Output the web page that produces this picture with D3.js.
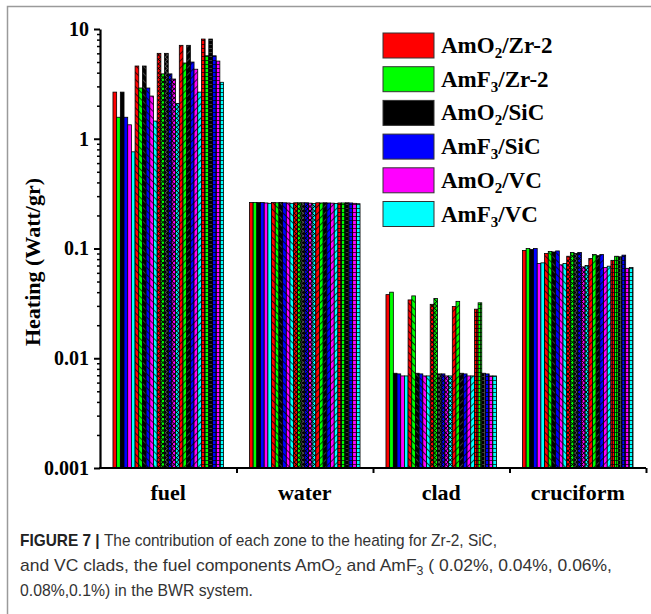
<!DOCTYPE html>
<html>
<head>
<meta charset="utf-8">
<script src="https://cdn.jsdelivr.net/npm/d3@7"></script>
<style>
  body { margin: 0; background: #fff; }
  svg { display: block; }
  .serif { font-family: "Liberation Serif", "Times New Roman", serif; font-weight: bold; }
</style>
</head>
<body>
<div id="chart"></div>
<script>
// categories and series
const categories = ["fuel", "water", "clad", "cruciform"];
const seriesLabels = ["AmO2/Zr-2", "AmF3/Zr-2", "AmO2/SiC", "AmF3/SiC", "AmO2/VC", "AmF3/VC"];
const seriesColors = ["#ff0000", "#00ff00", "#000000", "#0000ff", "#ff00ff", "#00ffff"];
const concentrations = ["0.02%", "0.04%", "0.06%", "0.08%", "0.1%"];

// heating (Watt/gr), one row per series, one column per concentration
const fuelHeat = [
  [2.66, 4.6, 6.0, 7.1, 8.1],
  [1.57, 2.9, 3.9, 4.9, 5.7],
  [2.66, 4.6, 6.0, 7.1, 8.1],
  [1.57, 2.9, 3.9, 5.0, 5.7],
  [1.34, 2.45, 3.5, 4.3, 5.1],
  [0.76, 1.45, 2.1, 2.66, 3.27]
];
const waterHeat = [
  [0.262, 0.262, 0.261, 0.261, 0.26],
  [0.262, 0.261, 0.261, 0.26, 0.26],
  [0.262, 0.262, 0.261, 0.261, 0.261],
  [0.262, 0.261, 0.261, 0.26, 0.26],
  [0.26, 0.26, 0.259, 0.259, 0.258],
  [0.258, 0.258, 0.257, 0.257, 0.256]
];
const cladHeat = [
  [0.038, 0.034, 0.031, 0.0296, 0.028],
  [0.040, 0.037, 0.035, 0.033, 0.032],
  [0.0073, 0.0073, 0.0072, 0.0073, 0.0073],
  [0.0072, 0.0072, 0.0072, 0.0072, 0.0072],
  [0.0069, 0.0069, 0.0069, 0.0069, 0.0069],
  [0.0069, 0.0069, 0.0069, 0.0069, 0.0069]
];
const cruciformHeat = [
  [0.096, 0.090, 0.085, 0.081, 0.078],
  [0.100, 0.094, 0.092, 0.088, 0.085],
  [0.098, 0.093, 0.090, 0.086, 0.084],
  [0.100, 0.095, 0.092, 0.088, 0.087],
  [0.073, 0.071, 0.068, 0.067, 0.066],
  [0.074, 0.073, 0.070, 0.069, 0.067]
];
const yTicks = [0.001, 0.01, 0.1, 1, 10];

const heatByCategory = [fuelHeat, waterHeat, cladHeat, cruciformHeat];

const width = 651, height = 614;
const plotLeft = 100, plotRight = 646, plotTop = 29, plotBottom = 468;

const svg = d3.select('#chart')
    .append('svg')
    .attr('width', width)
    .attr('height', height);

// figure frame (top and left rules)
svg.append('path')
    .attr('d', `M7.5,${height}L7.5,6.5L${width},6.5`)
    .attr('fill', 'none')
    .attr('stroke', '#9a9a9a')
    .attr('stroke-width', 1.5);

// fill patterns, one per series colour and concentration
const defs = svg.append('defs');
const hatch = [
  null,
  {size: 5, rot: 45, lines: ['h']},
  {size: 3.2, rot: 45, lines: ['h', 'v']},
  {size: 5, rot: -45, lines: ['h']},
  {size: 4, rot: 0, lines: ['h', 'v']}
];
seriesColors.forEach((c, s) => {
  hatch.forEach((h, k) => {
    if (!h) return;
    const p = defs.append('pattern')
        .attr('id', `pat-${s}-${k}`)
        .attr('patternUnits', 'userSpaceOnUse')
        .attr('width', h.size)
        .attr('height', h.size)
        .attr('patternTransform', `rotate(${h.rot})`);
    p.append('rect').attr('width', h.size).attr('height', h.size).attr('fill', c);
    const lc = s === 2 ? '#555' : '#000';
    if (h.lines.includes('h'))
      p.append('line').attr('x1', 0).attr('y1', 0.4).attr('x2', h.size).attr('y2', 0.4)
          .attr('stroke', lc).attr('stroke-width', 0.8);
    if (h.lines.includes('v'))
      p.append('line').attr('x1', 0.4).attr('y1', 0).attr('x2', 0.4).attr('y2', h.size)
          .attr('stroke', lc).attr('stroke-width', 0.8);
  });
});

// scales
const x0 = d3.scaleBand()
    .domain(categories)
    .range([plotLeft, plotRight])
    .paddingInner(0.19)
    .paddingOuter(0.095);
const x1 = d3.scaleBand()
    .domain(d3.range(concentrations.length * seriesLabels.length))
    .range([0, x0.bandwidth()]);
const y = d3.scaleLog()
    .domain([0.001, 10])
    .range([plotBottom, plotTop]);

// flatten to bars: concentration groups, six series in each
let bars = [];
categories.forEach((cat, ci) => {
  concentrations.forEach((conc, k) => {
    seriesLabels.forEach((lab, s) => {
      bars.push({cat: cat, k: k, s: s, idx: k * seriesLabels.length + s, v: heatByCategory[ci][s][k]});
    });
  });
});

svg.append('g').selectAll('rect')
    .data(bars)
    .enter().append('rect')
    .attr('x', d => x0(d.cat) + x1(d.idx))
    .attr('y', d => y(d.v))
    .attr('width', x1.bandwidth())
    .attr('height', d => y(0.001) - y(d.v))
    .attr('fill', d => d.k === 0 ? seriesColors[d.s] : `url(#pat-${d.s}-${d.k})`)
    .attr('stroke', '#000')
    .attr('stroke-width', 0.8);

// y axis with minor ticks
let minor = [];
for (let e = -3; e < 1; e++) {
  for (let m = 2; m <= 9; m++) minor.push(m * Math.pow(10, e));
}
svg.append('g')
    .attr('transform', `translate(${plotLeft},0)`)
    .call(d3.axisLeft(y).tickValues(minor).tickSize(3).tickFormat(''))
    .call(g => g.select('.domain').remove())
    .call(g => g.selectAll('line').attr('stroke-width', 1.5));

const yAxis = svg.append('g')
    .attr('transform', `translate(${plotLeft},0)`)
    .call(d3.axisLeft(y).tickValues(yTicks).tickSize(6).tickSizeOuter(0).tickPadding(5).tickFormat(d => String(d)));
yAxis.select('.domain').attr('stroke-width', 2.2);
yAxis.selectAll('line').attr('stroke-width', 2);
yAxis.selectAll('text')
    .attr('class', 'serif')
    .style('font-size', '20px')
    .attr('fill', '#000');

// x axis, ticks at category boundaries
const xb = d3.scaleLinear().domain([0, categories.length]).range([plotLeft, plotRight]);
const xAxis = svg.append('g')
    .attr('transform', `translate(0,${plotBottom})`)
    .call(d3.axisBottom(xb).tickValues([1, 2, 3, 4]).tickSize(5).tickSizeOuter(0).tickFormat(''));
xAxis.select('.domain').attr('stroke-width', 2.2).attr('d', `M${plotLeft - 1},0H${plotRight}`);
xAxis.selectAll('line').attr('stroke-width', 2);

svg.append('g').selectAll('text')
    .data(categories)
    .enter().append('text')
    .attr('class', 'serif')
    .attr('x', d => x0(d) + x0.bandwidth() / 2)
    .attr('y', 500)
    .attr('text-anchor', 'middle')
    .style('font-size', '22px')
    .text(d => d);

// y title
svg.append('text')
    .attr('class', 'serif')
    .attr('transform', `translate(40,262) rotate(-90)`)
    .attr('text-anchor', 'middle')
    .style('font-size', '22px')
    .text('Heating (Watt/gr)');

// legend
const legend = svg.append('g').selectAll('g')
    .data(seriesLabels)
    .enter().append('g')
    .attr('transform', (d, i) => `translate(383,${33 + i * 33.7})`);
legend.append('rect')
    .attr('width', 51)
    .attr('height', 25)
    .attr('fill', (d, i) => seriesColors[i])
    .attr('stroke', '#333')
    .attr('stroke-width', 1);
const lt = legend.append('text')
    .attr('class', 'serif')
    .attr('x', 58)
    .attr('y', 20)
    .style('font-size', '23px');
lt.each(function(d) {
  const m = d.match(/^(Am[OF])(\d)(.*)$/);
  const t = d3.select(this);
  t.append('tspan').text(m[1]);
  t.append('tspan').attr('dy', 5).style('font-size', '15px').text(m[2]);
  t.append('tspan').attr('dy', -5).text(m[3]);
});

// caption
const cap = svg.append('g')
    .style('font-family', '"Liberation Sans Narrow", "Liberation Sans", Arial, sans-serif')
    .style('font-size', '17px')
    .attr('fill', '#333');
const c1 = cap.append('text').attr('x', 20).attr('y', 546).attr('textLength', 477).attr('lengthAdjust', 'spacingAndGlyphs');
c1.append('tspan').style('font-weight', 'bold').attr('fill', '#222').text('FIGURE 7 | ');
c1.append('tspan').text('The contribution of each zone to the heating for Zr-2, SiC,');
const c2 = cap.append('text').attr('x', 20).attr('y', 571).attr('textLength', 592).attr('lengthAdjust', 'spacingAndGlyphs');
c2.append('tspan').text('and VC clads, the fuel components AmO');
c2.append('tspan').attr('dy', 4).style('font-size', '12px').text('2');
c2.append('tspan').attr('dy', -4).text(' and AmF');
c2.append('tspan').attr('dy', 4).style('font-size', '12px').text('3');
c2.append('tspan').attr('dy', -4).text(' ( 0.02%, 0.04%, 0.06%,');
cap.append('text').attr('x', 20).attr('y', 596).attr('textLength', 233).attr('lengthAdjust', 'spacingAndGlyphs')
    .text('0.08%,0.1%) in the BWR system.');
</script>
</body>
</html>
